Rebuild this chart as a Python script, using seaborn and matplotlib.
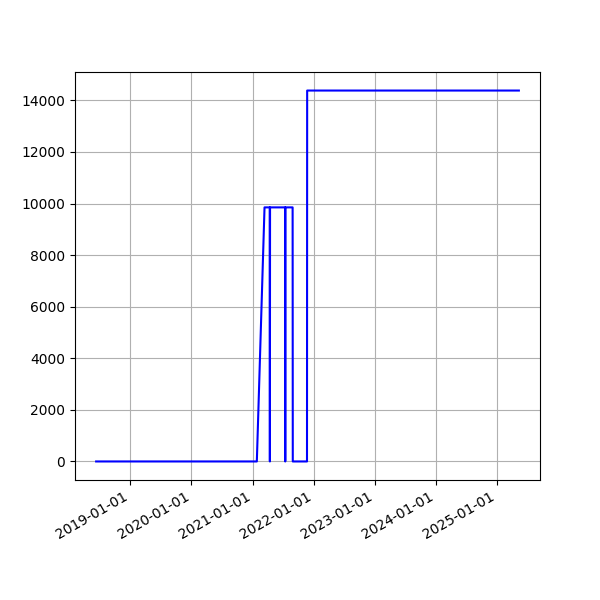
import pandas as pd
import matplotlib
matplotlib.use('Agg')
import matplotlib.pyplot as plt
import matplotlib.dates as mdates
import seaborn as sns

# values
dates = ['2018-06-10', '2021-01-26', '2021-03-13', '2021-04-13', '2021-04-14',
         '2021-04-15', '2021-07-14', '2021-07-15', '2021-07-16', '2021-08-28',
         '2021-08-29', '2021-11-22', '2021-11-23', '2025-05-12']
values = [0, 0, 9850, 9850, 0,
          9850, 9850, 0, 9850, 9850,
          0, 0, 14380, 14380]

df = pd.DataFrame({'date': pd.to_datetime(dates), 'value': values})

fig = plt.figure(figsize=(6, 6), dpi=100)
ax = sns.lineplot(x='date', y='value', data=df, color='blue', estimator=None, sort=False)
ax.set_xlabel('')
ax.set_ylabel('')
ax.xaxis.set_major_locator(mdates.YearLocator())
ax.xaxis.set_major_formatter(mdates.DateFormatter('%Y-%m-%d'))
ax.grid(True)
fig.autofmt_xdate()
fig.savefig('out.png', dpi=100)
